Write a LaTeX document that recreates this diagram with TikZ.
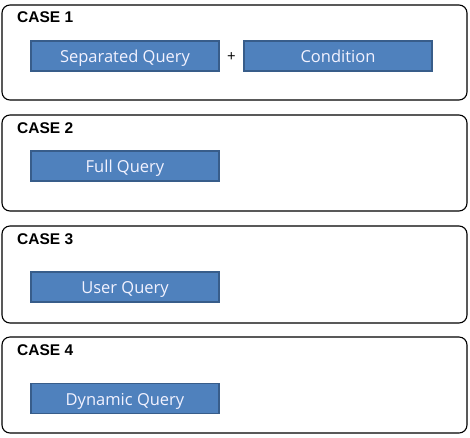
\documentclass[tikz,border=0pt]{standalone}
\usepackage{fontspec}
\setmainfont{Open Sans}
\newfontfamily\lblfont{Liberation Sans}
\definecolor{boxfill}{HTML}{4F81BD}
\definecolor{boxline}{HTML}{385D8A}
\begin{document}
\begin{tikzpicture}[x=1pt,y=-1pt,
  panel/.style={draw=black,line width=1.1pt,rounded corners=8pt},
  caselabel/.style={anchor=base west,font=\lblfont\fontsize{15.5}{16}\selectfont\bfseries,inner sep=0pt},
  qbox/.style={draw=boxline,line width=1.3pt,fill=boxfill,minimum width=188pt,minimum height=30pt,inner sep=0pt},
  qtext/.style={text=white!95!blue,font=\fontsize{16.5}{18}\selectfont,inner sep=0pt,anchor=base}
]
\useasboundingbox (0,0) rectangle (470,437);
\draw[panel] (2,5) rectangle (467,100);
\draw[panel] (2,115) rectangle (467,211);
\draw[panel] (2,226) rectangle (467,323);
\draw[panel] (2,337) rectangle (467,433);
\node[caselabel] (c1) at (17,22) {CASE 1};
\node[caselabel] (c2) at (17,133) {CASE 2};
\node[caselabel] (c3) at (17,244) {CASE 3};
\node[caselabel] (c4) at (17,355) {CASE 4};
\node[qbox] (sq) at (125,56) {};
\node[qtext] at ([yshift=-6.5pt]sq.center) {Separated Query};
\node[qbox] (cond) at (338,56) {};
\node[qtext] at ([yshift=-6.5pt]cond.center) {Condition};
\node[font=\fontsize{15}{16}\selectfont] (plus) at (231.5,57) {+};
\node[qbox] (fq) at (125,166) {};
\node[qtext] at ([yshift=-6.5pt]fq.center) {Full Query};
\node[qbox] (uq) at (125,287) {};
\node[qtext] at ([yshift=-6.5pt]uq.center) {User Query};
\node[qbox] (dq) at (125,398.5) {};
\node[qtext] at ([yshift=-6.5pt]dq.center) {Dynamic Query};
\end{tikzpicture}
\end{document}
